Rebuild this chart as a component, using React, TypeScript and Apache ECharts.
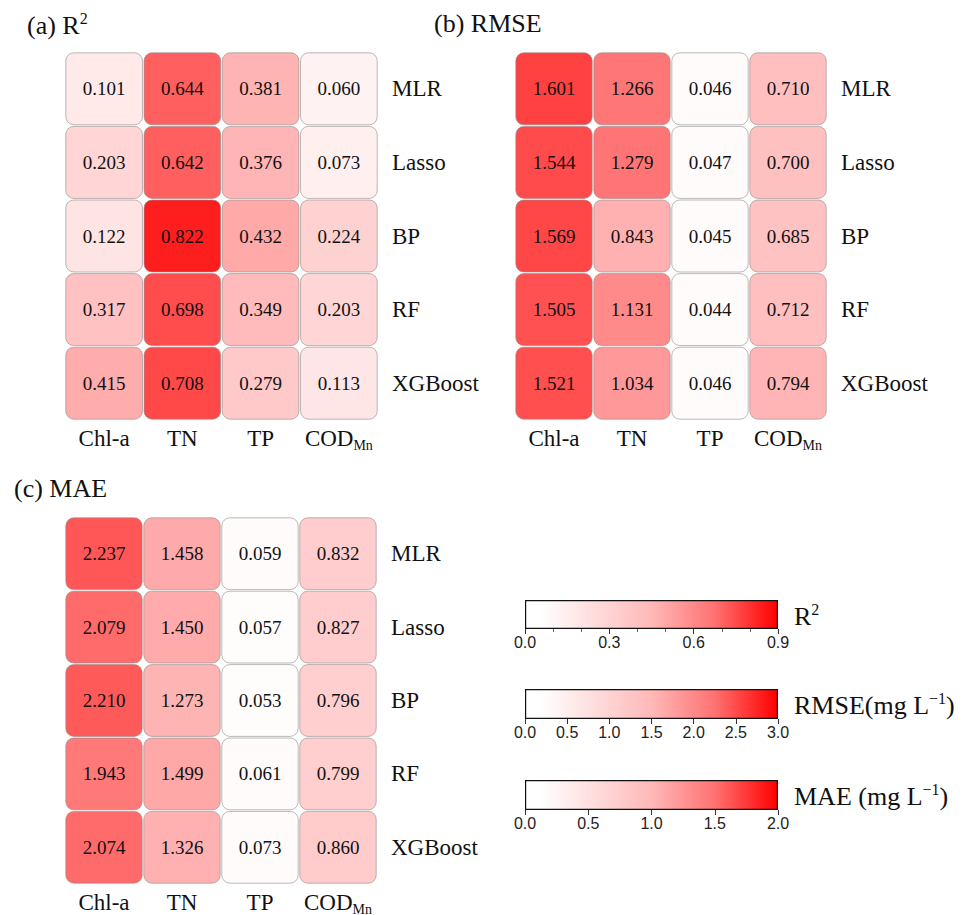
import React, { useEffect, useRef } from "react";
import * as echarts from "echarts";

const models = ["MLR", "Lasso", "BP", "RF", "XGBoost"];
const params = ["Chl-a", "TN", "TP", "COD_Mn"];

// rows follow models, columns follow params
const r2Values = [
  [0.101, 0.644, 0.381, 0.06],
  [0.203, 0.642, 0.376, 0.073],
  [0.122, 0.822, 0.432, 0.224],
  [0.317, 0.698, 0.349, 0.203],
  [0.415, 0.708, 0.279, 0.113],
];
const rmseValues = [
  [1.601, 1.266, 0.046, 0.71],
  [1.544, 1.279, 0.047, 0.7],
  [1.569, 0.843, 0.045, 0.685],
  [1.505, 1.131, 0.044, 0.712],
  [1.521, 1.034, 0.046, 0.794],
];
const maeValues = [
  [2.237, 1.458, 0.059, 0.832],
  [2.079, 1.45, 0.057, 0.827],
  [2.21, 1.273, 0.053, 0.796],
  [1.943, 1.499, 0.061, 0.799],
  [2.074, 1.326, 0.073, 0.86],
];

const r2Ticks = [0, 0.3, 0.6, 0.9];
const rmseTicks = [0, 0.5, 1.0, 1.5, 2.0, 2.5, 3.0];
const maeTicks = [0, 0.5, 1.0, 1.5, 2.0];

const SERIF = '"Liberation Serif", "Times New Roman", serif';
const SANS = '"Liberation Sans", Arial, sans-serif';

const ramp = (gs: number[]) => gs.map((g) => `rgb(255,${g},${g})`);

function toData(rows: number[][]) {
  const out: number[][] = [];
  rows.forEach((row, ri) => row.forEach((v, ci) => out.push([ci, ri, v])));
  return out;
}

function renderCell(params: any, api: any) {
  const p = api.coord([api.value(0), api.value(1)]);
  const s = api.size([1, 1]);
  const inset = 0.8;
  return {
    type: "rect",
    shape: {
      x: p[0] - s[0] / 2 + inset,
      y: p[1] - s[1] / 2 + inset,
      width: s[0] - 2 * inset,
      height: s[1] - 2 * inset,
      r: 8,
    },
    style: {
      fill: api.visual("color"),
      stroke: "rgba(140,140,140,0.6)",
      lineWidth: 1,
    },
    textContent: {
      style: {
        text: Number(api.value(2)).toFixed(3),
        fill: "#111",
        fontSize: 19,
        fontFamily: SERIF,
      },
    },
    textConfig: { position: "inside" },
  };
}

const xLabelFormatter = (v: string) =>
  v === "COD_Mn" ? "{m|COD}{s|Mn}" : `{m|${v}}`;

const xRich = {
  m: { fontSize: 23, fontFamily: SERIF, color: "#111", verticalAlign: "middle", lineHeight: 27 },
  s: { fontSize: 14, fontFamily: SERIF, color: "#111", verticalAlign: "bottom", lineHeight: 27 },
};

export default function App() {
  const ref = useRef<HTMLDivElement>(null);

  useEffect(() => {
    document.body.style.margin = "0";
    const chart = echarts.init(ref.current!, null, { renderer: "svg" });

    const heatGrids = [
      { left: 65, top: 52, width: 313, height: 368 },
      { left: 515, top: 52, width: 312, height: 368 },
      { left: 65, top: 517, width: 312, height: 367 },
    ];
    const cbGrids = [
      { left: 525, top: 600, width: 253, height: 29 },
      { left: 525, top: 689, width: 253, height: 30 },
      { left: 525, top: 780, width: 253, height: 30 },
    ];
    const cbMax = [0.9, 3.0, 2.0];
    const cbInterval = [0.3, 0.5, 0.5];
    const cbTicks = [r2Ticks, rmseTicks, maeTicks];

    const grids: any[] = [...heatGrids, ...cbGrids].map((g) => ({
      ...g,
      containLabel: false,
      outerBoundsMode: "none",
    }));

    const xAxes: any[] = [];
    const yAxes: any[] = [];
    heatGrids.forEach((_, i) => {
      xAxes.push({
        type: "category",
        gridIndex: i,
        data: params,
        position: "bottom",
        axisLine: { show: false },
        axisTick: { show: false },
        splitLine: { show: false },
        axisLabel: { interval: 0, margin: 5, formatter: xLabelFormatter, rich: xRich },
      });
      yAxes.push({
        type: "category",
        gridIndex: i,
        data: models,
        inverse: true,
        position: "right",
        axisLine: { show: false },
        axisTick: { show: false },
        splitLine: { show: false },
        axisLabel: {
          interval: 0,
          margin: 14,
          fontSize: 23,
          fontFamily: SERIF,
          color: "#111",
        },
      });
    });
    cbGrids.forEach((_, k) => {
      const gi = k + 3;
      const ticks = cbTicks[k];
      xAxes.push({
        type: "value",
        gridIndex: gi,
        min: ticks[0],
        max: ticks[ticks.length - 1],
        interval: cbInterval[k],
        axisLine: { show: false },
        axisTick: { show: true, length: 5, lineStyle: { color: "#333", width: 1 } },
        minorTick: k === 0 ? { show: true, splitNumber: 3, length: 3, lineStyle: { color: "#666" } } : { show: false },
        splitLine: { show: false },
        axisLabel: {
          margin: 5,
          fontSize: 16,
          fontFamily: SANS,
          color: "#222",
          showMinLabel: true,
          showMaxLabel: true,
          formatter: (v: number) => v.toFixed(1),
        },
      });
      yAxes.push({
        type: "category",
        gridIndex: gi,
        data: [""],
        show: false,
      });
    });

    const cbGradient = () =>
      new echarts.graphic.LinearGradient(0, 0, 1, 0, [
        { offset: 0, color: "#ffffff" },
        { offset: 0.06, color: "#ffffff" },
        { offset: 0.5, color: "#ffb8b8" },
        { offset: 0.75, color: "#ff7272" },
        { offset: 1, color: "#ff0000" },
      ]);

    const series: any[] = [
      { type: "custom", xAxisIndex: 0, yAxisIndex: 0, data: toData(r2Values), renderItem: renderCell },
      { type: "custom", xAxisIndex: 1, yAxisIndex: 1, data: toData(rmseValues), renderItem: renderCell },
      { type: "custom", xAxisIndex: 2, yAxisIndex: 2, data: toData(maeValues), renderItem: renderCell },
    ];
    cbGrids.forEach((_, k) => {
      series.push({
        type: "bar",
        xAxisIndex: k + 3,
        yAxisIndex: k + 3,
        data: [cbMax[k]],
        barWidth: "100%",
        silent: true,
        itemStyle: { color: cbGradient(), borderColor: "#111", borderWidth: 1.2 },
      });
    });

    const supRich = {
      m: { fontSize: 26, fontFamily: SERIF, fill: "#111", verticalAlign: "middle", lineHeight: 30 },
      sup: { fontSize: 16, fontFamily: SERIF, fill: "#111", verticalAlign: "top", lineHeight: 18 },
    };
    const txt = (x: number, y: number, text: string) => ({
      type: "text",
      left: x,
      top: y,
      style: { text, rich: supRich, fill: "#111" },
    });

    chart.setOption({
      animation: false,
      backgroundColor: "#ffffff",
      grid: grids,
      xAxis: xAxes,
      yAxis: yAxes,
      visualMap: [
        {
          show: false, seriesIndex: 0, dimension: 2, min: 0, max: 0.9,
          inRange: { color: ramp([255, 222, 197, 165, 110, 58, 0]) },
        },
        {
          show: false, seriesIndex: 1, dimension: 2, min: 0, max: 2,
          inRange: { color: ramp([255, 215, 158, 82, 0]) },
        },
        {
          show: false, seriesIndex: 2, dimension: 2, min: 0, max: 3,
          inRange: { color: ramp([255, 225, 195, 168, 115, 55, 0]) },
        },
      ],
      series,
      graphic: [
        txt(27, 10, "{m|(a) R}{sup|2}"),
        txt(434, 10, "{m|(b) RMSE}"),
        txt(14, 475, "{m|(c) MAE}"),
        txt(794, 601, "{m|R}{sup|2}"),
        txt(794, 690, "{m|RMSE(mg L}{sup|−1}{m|)}"),
        txt(794, 781, "{m|MAE (mg L}{sup|−1}{m|)}"),
      ],
    });

    return () => chart.dispose();
  }, []);

  return <div ref={ref} style={{ width: 971, height: 915 }} />;
}
